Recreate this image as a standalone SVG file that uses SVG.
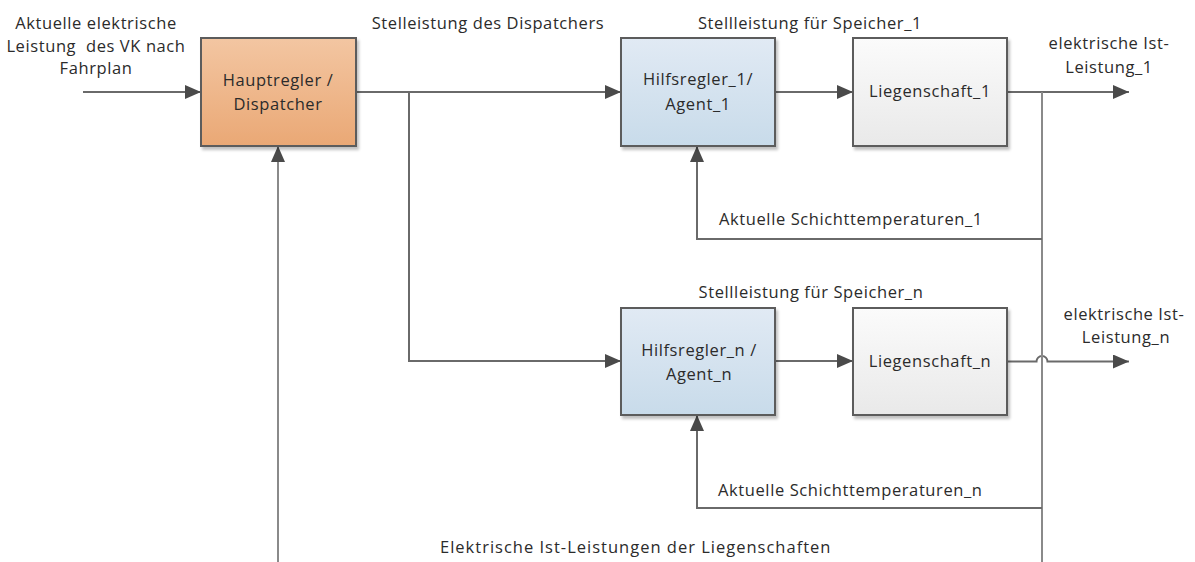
<svg xmlns="http://www.w3.org/2000/svg" width="1195" height="562" viewBox="0 0 1195 562">
  <defs>
    <linearGradient id="gOrange" x1="0" y1="0" x2="0" y2="1">
      <stop offset="0" stop-color="#f3c6a2"/>
      <stop offset="1" stop-color="#eaa875"/>
    </linearGradient>
    <linearGradient id="gBlue" x1="0" y1="0" x2="0" y2="1">
      <stop offset="0" stop-color="#e1eaf4"/>
      <stop offset="1" stop-color="#c8dbea"/>
    </linearGradient>
    <linearGradient id="gGray" x1="0" y1="0" x2="0" y2="1">
      <stop offset="0" stop-color="#fbfbfb"/>
      <stop offset="1" stop-color="#e9e9e9"/>
    </linearGradient>
    <filter id="shadow" x="-10%" y="-10%" width="125%" height="130%">
      <feGaussianBlur in="SourceAlpha" stdDeviation="1.5"/>
      <feOffset dx="2" dy="3" result="b"/>
      <feComponentTransfer><feFuncA type="linear" slope="0.25"/></feComponentTransfer>
      <feMerge><feMergeNode/><feMergeNode in="SourceGraphic"/></feMerge>
    </filter>
    <marker id="arrow" viewBox="0 0 16 14" refX="16" refY="7" markerWidth="16" markerHeight="14" markerUnits="userSpaceOnUse" orient="auto">
      <path d="M0,0 L16,7 L0,14 Z" fill="#4a4a4a"/>
    </marker>
  </defs>
  <style>
    text { font-family: "Open Sans", "Liberation Sans", sans-serif; font-size: 16.5px; letter-spacing: 0.6px; fill: #2b2b2b; white-space: pre; }
    .c { text-anchor: middle; }
    .wide { letter-spacing: 1px; }
    .box { stroke: #5c5c5c; stroke-width: 2; filter: url(#shadow); }
    .wire { fill: none; stroke: #6a6a6a; stroke-width: 2; }
    .bus { fill: none; stroke: #8a8a8a; stroke-width: 2; }
  </style>
  <rect width="1195" height="562" fill="#ffffff"/>

  <!-- connectors -->
  <g id="connectors">
    <path class="wire" d="M83,92 H201" marker-end="url(#arrow)"/>
    <path class="bus" d="M278,562 V146" marker-end="url(#arrow)"/>
    <path class="wire" d="M356,92 H621" marker-end="url(#arrow)"/>
    <path class="wire" d="M409,92 V361 H621" marker-end="url(#arrow)"/>
    <path class="wire" d="M775,92 H853" marker-end="url(#arrow)"/>
    <path class="wire" d="M775,361 H853" marker-end="url(#arrow)"/>
    <path class="wire" d="M1007,92 H1129" marker-end="url(#arrow)"/>
    <path class="wire" d="M1007,361.5 H1036.5 A5.5,5.5 0 0 1 1047.5,361.5 H1129" marker-end="url(#arrow)"/>
    <path class="bus" d="M1042,92 V562"/>
    <path class="wire" d="M1042,239 H697 V146" marker-end="url(#arrow)"/>
    <path class="wire" d="M1042,508 H697 V415" marker-end="url(#arrow)"/>
  </g>

  <!-- connector labels -->
  <g id="labels">
    <text class="c" x="96" y="29">Aktuelle elektrische</text>
    <text class="c" x="96" y="52">Leistung  des VK nach</text>
    <text class="c" x="96" y="74">Fahrplan</text>
    <text class="c" x="488" y="29">Stelleistung des Dispatchers</text>
    <text class="c" x="810" y="29">Stellleistung für Speicher_1</text>
    <text class="c" x="1109" y="49">elektrische Ist-</text>
    <text class="c" x="1109" y="73">Leistung_1</text>
    <text x="719" y="225">Aktuelle Schichttemperaturen_1</text>
    <text class="c" x="811" y="298">Stellleistung für Speicher_n</text>
    <text class="c" x="1124" y="320">elektrische Ist-</text>
    <text class="c" x="1126" y="343">Leistung_n</text>
    <text x="718" y="496">Aktuelle Schichttemperaturen_n</text>
    <text class="wide" x="440" y="553">Elektrische Ist-Leistungen der Liegenschaften</text>
  </g>

  <g id="hauptregler">
    <rect class="box" x="201" y="38" width="155" height="108" fill="url(#gOrange)"/>
    <text class="c" x="278" y="86">Hauptregler /</text>
    <text class="c" x="278" y="110">Dispatcher</text>
  </g>

  <g id="hilfsregler-1">
    <rect class="box" x="621" y="38" width="154" height="108" fill="url(#gBlue)"/>
    <text class="c" x="698" y="85">Hilfsregler_1/</text>
    <text class="c" x="698" y="110">Agent_1</text>
  </g>

  <g id="liegenschaft-1">
    <rect class="box" x="853" y="38" width="154" height="108" fill="url(#gGray)"/>
    <text class="c" x="930" y="97">Liegenschaft_1</text>
  </g>

  <g id="hilfsregler-n">
    <rect class="box" x="621" y="308" width="154" height="107" fill="url(#gBlue)"/>
    <text class="c" x="699" y="356">Hilfsregler_n /</text>
    <text class="c" x="699" y="380">Agent_n</text>
  </g>

  <g id="liegenschaft-n">
    <rect class="box" x="853" y="308" width="154" height="107" fill="url(#gGray)"/>
    <text class="c" x="930" y="367">Liegenschaft_n</text>
  </g>
</svg>
